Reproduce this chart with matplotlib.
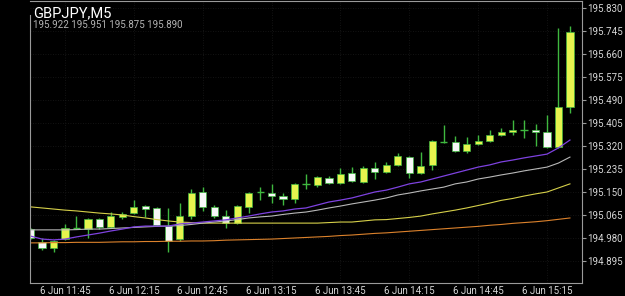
import matplotlib
matplotlib.use("Agg")
import matplotlib.pyplot as plt

# ---- data ----
opens = [195.013, 194.965, 194.943, 194.976, 195.017, 195.013, 195.050, 195.021,
         195.058, 195.072, 195.098, 195.091, 195.024, 194.976, 195.061, 195.150,
         195.095, 195.061, 195.035, 195.095, 195.150, 195.146, 195.135, 195.124,
         195.180, 195.176, 195.202, 195.183, 195.220, 195.187, 195.239, 195.224,
         195.250, 195.279, 195.220, 195.250, 195.335, 195.335, 195.302, 195.327,
         195.338, 195.361, 195.372, 195.379, 195.379, 195.372, 195.316, 195.464]
highs = [195.017, 194.980, 194.973, 195.032, 195.061, 195.054, 195.054, 195.076,
         195.076, 195.120, 195.102, 195.095, 195.091, 195.109, 195.161, 195.168,
         195.102, 195.083, 195.102, 195.150, 195.168, 195.180, 195.146, 195.183,
         195.217, 195.209, 195.209, 195.239, 195.242, 195.246, 195.261, 195.261,
         195.294, 195.283, 195.298, 195.342, 195.398, 195.357, 195.353, 195.361,
         195.379, 195.387, 195.416, 195.416, 195.401, 195.435, 195.756, 195.763]
lows = [194.976, 194.936, 194.928, 194.973, 195.013, 194.980, 195.013, 195.017,
        195.050, 195.069, 195.058, 195.024, 194.928, 194.969, 195.050, 195.080,
        195.054, 195.017, 195.032, 195.072, 195.120, 195.109, 195.102, 195.109,
        195.161, 195.168, 195.180, 195.180, 195.187, 195.183, 195.198, 195.220,
        195.246, 195.202, 195.217, 195.231, 195.331, 195.298, 195.294, 195.324,
        195.335, 195.357, 195.361, 195.350, 195.320, 195.313, 195.313, 195.442]
closes = [194.980, 194.943, 194.969, 195.017, 195.017, 195.050, 195.021, 195.061,
          195.069, 195.095, 195.087, 195.028, 194.969, 195.061, 195.146, 195.095,
          195.061, 195.035, 195.098, 195.146, 195.150, 195.135, 195.124, 195.180,
          195.180, 195.205, 195.183, 195.217, 195.191, 195.239, 195.224, 195.250,
          195.283, 195.220, 195.246, 195.338, 195.335, 195.302, 195.327, 195.338,
          195.361, 195.372, 195.379, 195.379, 195.372, 195.316, 195.464, 195.741]

ma_purple = [194.987, 194.976, 194.973, 194.976, 194.984, 194.991, 194.998, 195.006,
             195.013, 195.021, 195.024, 195.024, 195.024, 195.032, 195.035, 195.039,
             195.043, 195.047, 195.054, 195.061, 195.069, 195.076, 195.080, 195.087,
             195.091, 195.102, 195.113, 195.120, 195.128, 195.139, 195.150, 195.157,
             195.168, 195.180, 195.187, 195.198, 195.209, 195.220, 195.231, 195.242,
             195.250, 195.261, 195.268, 195.276, 195.283, 195.290, 195.313, 195.342]
ma_gray = [195.010, 195.010, 195.010, 195.010, 195.011, 195.013, 195.013, 195.015,
           195.017, 195.019, 195.021, 195.023, 195.024, 195.026, 195.030, 195.035,
           195.039, 195.043, 195.048, 195.054, 195.058, 195.061, 195.067, 195.072,
           195.076, 195.083, 195.091, 195.098, 195.106, 195.113, 195.120, 195.128,
           195.139, 195.146, 195.154, 195.161, 195.168, 195.180, 195.187, 195.198,
           195.205, 195.213, 195.220, 195.228, 195.235, 195.242, 195.257, 195.279]
ma_yellow = [195.095, 195.091, 195.087, 195.083, 195.080, 195.076, 195.072, 195.069,
             195.065, 195.059, 195.054, 195.048, 195.043, 195.039, 195.037, 195.035,
             195.035, 195.035, 195.035, 195.035, 195.035, 195.035, 195.035, 195.035,
             195.035, 195.035, 195.037, 195.039, 195.039, 195.043, 195.047, 195.048,
             195.052, 195.056, 195.061, 195.069, 195.076, 195.083, 195.091, 195.100,
             195.109, 195.119, 195.126, 195.135, 195.143, 195.150, 195.165, 195.180]
ma_orange = [194.962, 194.962, 194.963, 194.963, 194.964, 194.964, 194.964, 194.965,
             194.966, 194.966, 194.967, 194.967, 194.968, 194.968, 194.969, 194.969,
             194.970, 194.972, 194.973, 194.974, 194.975, 194.976, 194.978, 194.980,
             194.982, 194.984, 194.986, 194.989, 194.991, 194.994, 194.997, 194.999,
             195.002, 195.005, 195.008, 195.011, 195.014, 195.017, 195.020, 195.023,
             195.027, 195.030, 195.034, 195.037, 195.040, 195.044, 195.049, 195.054]

time_tick_bars = [3, 9, 15, 21, 27, 33, 39, 45]
time_tick_labels = ["6 Jun 11:45", "6 Jun 12:15", "6 Jun 12:45", "6 Jun 13:15",
                    "6 Jun 13:45", "6 Jun 14:15", "6 Jun 14:45", "6 Jun 15:15"]
price_ticks = [194.895, 194.980, 195.065, 195.150, 195.235, 195.320,
               195.405, 195.490, 195.575, 195.660, 195.745, 195.830]
title = "GBPJPY,M5"
ohlc_text = "195.922 195.951 195.875 195.890"

# ---- style ----
plt.rcParams['font.family'] = ['Roboto', 'DejaVu Sans']
BG = 'black'
GREEN = '#3fb83f'
BULL = '#e6f44e'
BEAR = '#f8f8f8'
AXC = '#9a9a9a'
TXT = '#d6d6d6'

W, H = 625, 296
fig = plt.figure(figsize=(W / 100, H / 100), dpi=100, facecolor=BG)
ax = fig.add_axes([30 / W, 13 / H, 552 / W, 282 / H])
ax.set_facecolor(BG)

n = len(opens)
xs = list(range(n))

# grid
for t in price_ticks:
    ax.axhline(t, color='#1a1a1a', lw=0.6, ls=(0, (1, 2)), zorder=0)
for t in time_tick_bars:
    ax.axvline(t, color='#1a1a1a', lw=0.6, ls=(0, (1, 2)), zorder=0)

# candles
ax.vlines(xs, lows, highs, color=GREEN, lw=1.0, zorder=2)
bw = 0.62
for i in xs:
    o, c = opens[i], closes[i]
    if c == o:
        ax.hlines(o, i - bw / 2, i + bw / 2, color=GREEN, lw=1.0, zorder=3)
    else:
        col = BULL if c > o else BEAR
        ax.bar(i, abs(c - o), bottom=min(o, c), width=bw, color=col,
               edgecolor=GREEN, linewidth=0.5, zorder=3)

# moving averages
ax.plot(xs, ma_orange, color='#dc822c', lw=0.8, zorder=4)
ax.plot(xs, ma_yellow, color='#d6d04a', lw=0.8, zorder=4)
ax.plot(xs, ma_gray, color='#b8b8b8', lw=0.8, zorder=4)
ax.plot(xs, ma_purple, color='#7e42e0', lw=0.9, zorder=4)

ax.set_xlim(-0.05, 48.05)
ax.set_ylim(194.8137, 195.8558)

ax.yaxis.tick_right()
ax.set_yticks(price_ticks)
ax.set_yticklabels([f"{v:.3f}" for v in price_ticks])
ax.set_xticks(time_tick_bars)
ax.set_xticklabels(time_tick_labels)
ax.tick_params(axis='y', colors=AXC, labelcolor=TXT, length=3, width=0.8,
               pad=1, labelsize=7)
ax.tick_params(axis='x', colors=AXC, labelcolor=TXT, length=0, pad=2,
               labelsize=7)

for s in ['right', 'bottom', 'top']:
    ax.spines[s].set_color(AXC)
    ax.spines[s].set_linewidth(0.8)
ax.spines['left'].set_visible(False)
ax.plot([0, 0], [0, (283 - 15) / 282], transform=ax.transAxes,
        color=AXC, lw=0.8, clip_on=False, zorder=5)

fig.text(33 / W, 1 - 17 / H, title, color='white', fontsize=10.5,
         va='baseline', ha='left')
fig.text(33 / W, 1 - 28.5 / H, ohlc_text, color='#b4b4b4', fontsize=7,
         va='baseline', ha='left')

fig.savefig('out.png', dpi=100, facecolor=BG)
